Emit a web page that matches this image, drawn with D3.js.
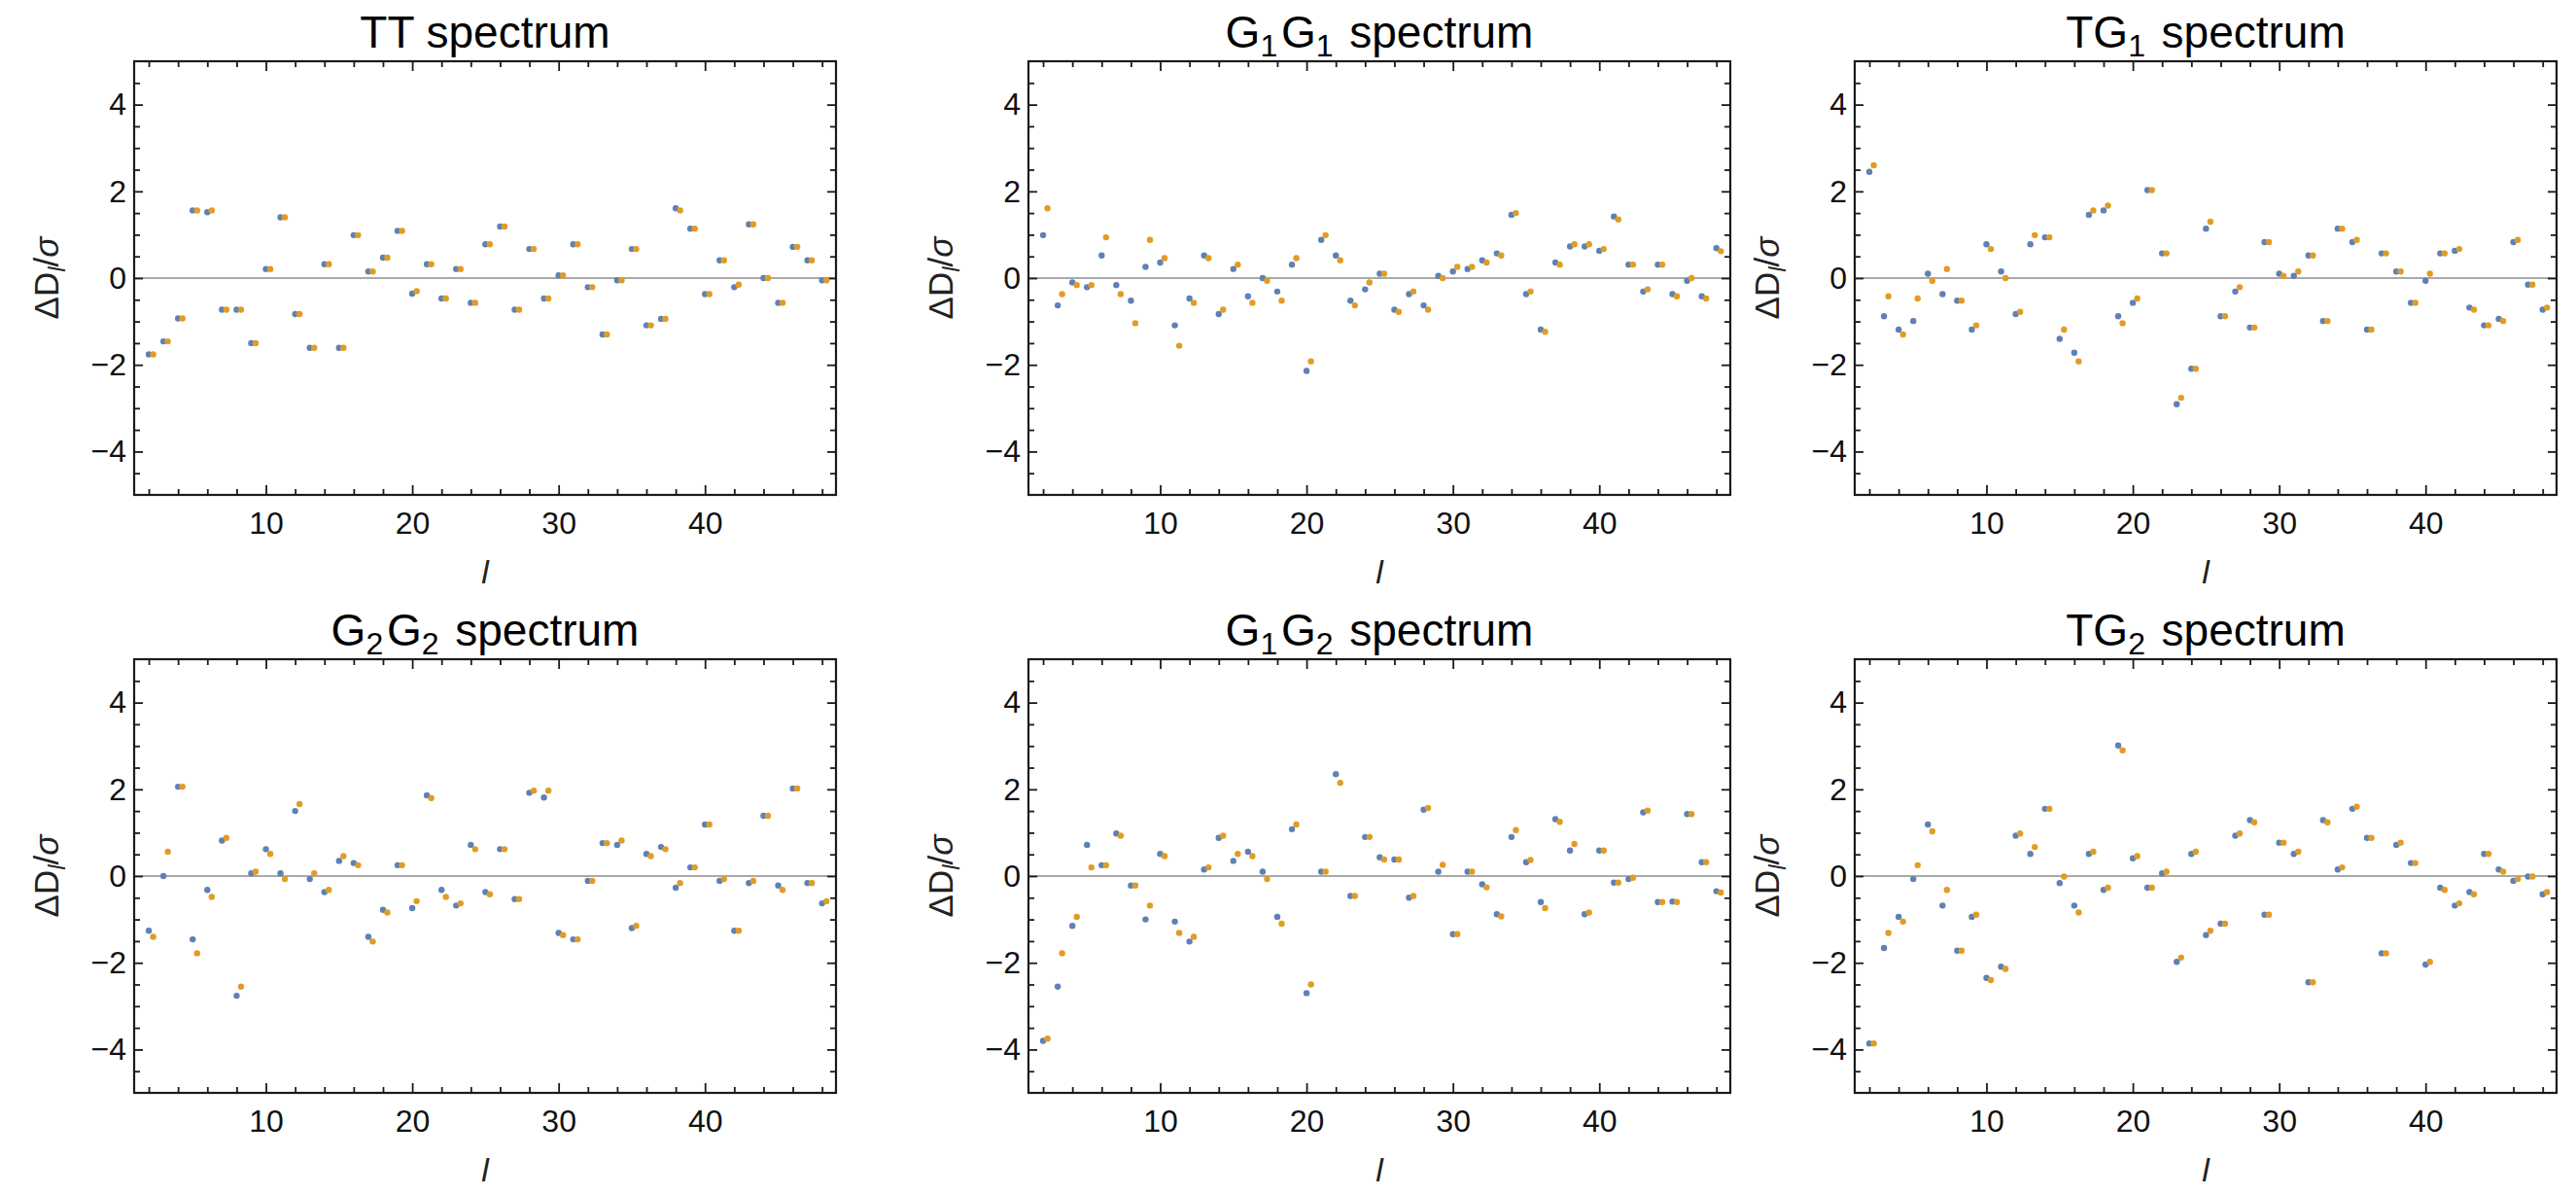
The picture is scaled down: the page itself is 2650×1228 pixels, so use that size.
<!DOCTYPE html>
<html>
<head>
<meta charset="utf-8">
<script src="https://cdn.jsdelivr.net/npm/d3@7"></script>
<style>
  body { margin: 0; background: #fff; }
  svg { display: block; font-family: "Liberation Sans", Arial, Helvetica, sans-serif; }
</style>
</head>
<body>
<div id="main"></div>
<script>
// multipole index, blue = first estimate, orange = second (drawn shifted right a bit)
var ell = [2,3,4,5,6,7,8,9,10,11,12,13,14,15,16,17,18,19,20,21,22,23,24,25,26,27,28,29,30,31,32,33,34,35,36,37,38,39,40,41,42,43,44,45,46,47,48];

var titles = ["TT spectrum", "G_1G_1 spectrum", "TG_1 spectrum", "G_2G_2 spectrum", "G_1G_2 spectrum", "TG_2 spectrum"];

var ttBlue   = [-1.76,-1.46,-0.93,1.56,1.52,-0.73,-0.73,-1.50,0.21,1.40,-0.83,-1.61,0.32,-1.61,0.99,0.15,0.47,1.09,-0.36,0.32,-0.47,0.21,-0.57,0.78,1.19,-0.73,0.67,-0.47,0.06,0.78,-0.21,-1.30,-0.05,0.67,-1.09,-0.94,1.61,1.14,-0.37,0.41,-0.21,1.24,0.00,-0.57,0.72,0.41,-0.05];
var ttOrange = [-1.76,-1.46,-0.93,1.56,1.56,-0.73,-0.73,-1.50,0.21,1.40,-0.83,-1.61,0.32,-1.61,0.99,0.15,0.47,1.09,-0.30,0.32,-0.47,0.21,-0.57,0.78,1.19,-0.73,0.67,-0.47,0.06,0.78,-0.21,-1.30,-0.05,0.67,-1.09,-0.94,1.56,1.14,-0.37,0.41,-0.15,1.24,0.00,-0.57,0.72,0.41,-0.05];

var g1g1Blue   = [0.99,-0.63,-0.10,-0.21,0.52,-0.16,-0.52,0.26,0.36,-1.09,-0.47,0.52,-0.83,0.21,-0.42,0.00,-0.31,0.31,-2.14,0.88,0.52,-0.52,-0.26,0.10,-0.73,-0.37,-0.63,0.05,0.15,0.21,0.41,0.57,1.46,-0.37,-1.19,0.36,0.73,0.73,0.63,1.42,0.31,-0.31,0.31,-0.37,-0.06,-0.42,0.69];
var g1g1Orange = [1.61,-0.37,-0.16,-0.16,0.94,-0.37,-1.04,0.88,0.46,-1.56,-0.57,0.46,-0.73,0.31,-0.57,-0.06,-0.52,0.46,-1.92,0.99,0.41,-0.63,-0.10,0.10,-0.78,-0.31,-0.73,0.00,0.26,0.26,0.36,0.52,1.50,-0.31,-1.24,0.31,0.78,0.78,0.67,1.35,0.31,-0.26,0.31,-0.42,0.00,-0.47,0.62];

var tg1Blue   = [2.45,-0.88,-1.19,-0.99,0.10,-0.37,-0.52,-1.19,0.78,0.15,-0.83,0.78,0.94,-1.40,-1.72,1.46,1.56,-0.88,-0.57,2.03,0.57,-2.91,-2.09,1.14,-0.88,-0.31,-1.14,0.83,0.10,0.05,0.52,-0.99,1.14,0.83,-1.19,0.57,0.15,-0.57,-0.06,0.57,0.63,-0.68,-1.09,-0.94,0.83,-0.15,-0.73];
var tg1Orange = [2.60,-0.42,-1.30,-0.47,-0.06,0.21,-0.52,-1.09,0.67,0.00,-0.78,0.99,0.94,-1.19,-1.92,1.56,1.67,-1.04,-0.47,2.03,0.57,-2.76,-2.09,1.30,-0.88,-0.21,-1.14,0.83,0.05,0.15,0.52,-0.99,1.14,0.88,-1.19,0.57,0.15,-0.57,0.10,0.57,0.67,-0.73,-1.09,-0.99,0.88,-0.15,-0.68];

var g2g2Blue   = [-1.26,0.00,2.06,-1.46,-0.32,0.82,-2.76,0.06,0.62,0.06,1.50,-0.07,-0.37,0.35,0.30,-1.40,-0.78,0.25,-0.74,1.86,-0.32,-0.68,0.72,-0.37,0.62,-0.53,1.92,1.81,-1.31,-1.46,-0.11,0.76,0.72,-1.20,0.51,0.67,-0.27,0.20,1.19,-0.11,-1.26,-0.16,1.39,-0.22,2.02,-0.16,-0.63];
var g2g2Orange = [-1.40,0.56,2.06,-1.78,-0.48,0.88,-2.55,0.10,0.51,-0.07,1.66,0.06,-0.32,0.46,0.25,-1.51,-0.84,0.25,-0.58,1.80,-0.48,-0.63,0.62,-0.42,0.62,-0.53,1.97,1.97,-1.36,-1.46,-0.11,0.76,0.82,-1.15,0.46,0.62,-0.16,0.20,1.19,-0.07,-1.26,-0.11,1.39,-0.32,2.02,-0.16,-0.58];

var g1g2Blue   = [-3.80,-2.55,-1.15,0.72,0.25,0.98,-0.22,-1.00,0.51,-1.05,-1.51,0.15,0.88,0.35,0.56,0.10,-0.94,1.08,-2.70,0.10,2.35,-0.46,0.90,0.43,0.38,-0.50,1.53,0.10,-1.34,0.10,-0.19,-0.88,0.90,0.32,-0.60,1.31,0.59,-0.88,0.59,-0.15,-0.07,1.47,-0.60,-0.59,1.43,0.32,-0.35];
var g1g2Orange = [-3.75,-1.78,-0.94,0.20,0.25,0.93,-0.22,-0.68,0.46,-1.31,-1.40,0.20,0.93,0.51,0.46,-0.07,-1.10,1.19,-2.50,0.10,2.15,-0.46,0.90,0.38,0.38,-0.46,1.57,0.26,-1.34,0.10,-0.26,-0.93,1.06,0.37,-0.74,1.25,0.74,-0.84,0.59,-0.15,-0.04,1.51,-0.60,-0.60,1.43,0.32,-0.38];

var tg2Blue   = [-3.86,-1.66,-0.94,-0.07,1.19,-0.68,-1.72,-0.94,-2.35,-2.09,0.93,0.51,1.55,-0.16,-0.68,0.51,-0.32,3.01,0.41,-0.27,0.06,-1.98,0.51,-1.36,-1.10,0.93,1.29,-0.89,0.77,0.51,-2.45,1.29,0.15,1.55,0.88,-1.78,0.72,0.30,-2.04,-0.27,-0.68,-0.37,0.51,0.15,-0.11,-0.01,-0.42];
var tg2Orange = [-3.86,-1.31,-1.05,0.25,1.03,-0.32,-1.72,-0.89,-2.40,-2.14,0.98,0.67,1.55,-0.01,-0.84,0.56,-0.27,2.90,0.46,-0.27,0.10,-1.88,0.56,-1.26,-1.10,0.98,1.24,-0.89,0.77,0.56,-2.45,1.24,0.20,1.60,0.88,-1.78,0.77,0.30,-1.98,-0.32,-0.63,-0.42,0.51,0.10,-0.07,-0.01,-0.37];

var blueSeries = [ttBlue, g1g1Blue, tg1Blue, g2g2Blue, g1g2Blue, tg2Blue];
var orangeSeries = [ttOrange, g1g1Orange, tg1Orange, g2g2Orange, g1g2Orange, tg2Orange];

var xMajor = [10, 20, 30, 40];
var xMinor = [2,4,6,8,12,14,16,18,22,24,26,28,32,34,36,38,42,44,46,48];
var yMajor = [-4, -2, 0, 2, 4];
var yMinor = [-4.5,-3.5,-3,-2.5,-1.5,-1,-0.5,0.5,1,1.5,2.5,3,3.5,4.5];

var BLUE = "#5E81B5", ORANGE = "#E19C24";
var frameColor = "#1a1a1a";

var W = 2650, H = 1228;
var colLeft = [138, 1058, 1908];
var rowTop = [63, 678];
var pw = 722, ph = 446;

var svg = d3.select("#main").append("svg")
    .attr("width", W)
    .attr("height", H);
svg.append("rect").attr("width", W).attr("height", H).attr("fill", "#fff");

for (var i = 0; i < 6; i++) {
    drawPanel(i);
}

function drawPanel(i) {
    var left = colLeft[i % 3], top = rowTop[Math.floor(i / 3)];
    var g = svg.append("g").attr("transform", "translate(" + left + "," + top + ")");

    var x = d3.scaleLinear().domain([1.0, 48.95]).range([0, pw]);
    var y = d3.scaleLinear().domain([-5, 5]).range([ph, 0]);

    // zero axis line
    g.append("line")
        .attr("x1", 0).attr("x2", pw)
        .attr("y1", y(0)).attr("y2", y(0))
        .attr("stroke", "#8c8c8c")
        .attr("stroke-width", 1.6);

    // frame ticks, pointing inward
    addAxis(g, d3.axisBottom(x).tickValues(xMajor).tickSize(-10).tickPadding(17).tickFormat(d3.format("d")), "translate(0," + ph + ")", true);
    addAxis(g, d3.axisBottom(x).tickValues(xMinor).tickSize(-6).tickFormat(""), "translate(0," + ph + ")", false);
    addAxis(g, d3.axisTop(x).tickValues(xMajor).tickSize(-10).tickFormat(""), null, false);
    addAxis(g, d3.axisTop(x).tickValues(xMinor).tickSize(-6).tickFormat(""), null, false);
    addAxis(g, d3.axisLeft(y).tickValues(yMajor).tickSize(-9).tickPadding(8).tickFormat(function (d) { return d < 0 ? "\u2212" + Math.abs(d) : d; }), null, true);
    addAxis(g, d3.axisLeft(y).tickValues(yMinor).tickSize(-6).tickFormat(""), null, false);
    addAxis(g, d3.axisRight(y).tickValues(yMajor).tickSize(-9).tickFormat(""), "translate(" + pw + ",0)", false);
    addAxis(g, d3.axisRight(y).tickValues(yMinor).tickSize(-6).tickFormat(""), "translate(" + pw + ",0)", false);

    g.append("rect")
        .attr("width", pw).attr("height", ph)
        .attr("fill", "none")
        .attr("stroke", frameColor)
        .attr("stroke-width", 2.2);

    // points
    g.append("g").selectAll("circle")
        .data(blueSeries[i])
        .join("circle")
        .attr("cx", function (d, k) { return x(ell[k]); })
        .attr("cy", function (d) { return y(d); })
        .attr("r", 3.2)
        .attr("fill", BLUE);
    g.append("g").selectAll("circle")
        .data(orangeSeries[i])
        .join("circle")
        .attr("cx", function (d, k) { return x(ell[k] + 0.3); })
        .attr("cy", function (d) { return y(d); })
        .attr("r", 3.2)
        .attr("fill", ORANGE);

    // title with subscripts
    var t = g.append("text")
        .attr("x", pw / 2).attr("y", -14)
        .attr("text-anchor", "middle")
        .attr("font-size", 46)
        .attr("fill", "#000");
    var parts = titles[i].split(/_(\d)/);
    parts.forEach(function (p, k) {
        if (p === "") return;
        if (k % 2 === 1) {
            t.append("tspan").attr("font-size", 32).attr("dy", 9).text(p);
            t.append("tspan").attr("dy", -9).text("\u200a");
        } else {
            t.append("tspan").text(p);
        }
    });

    // y label
    var yl = g.append("text")
        .attr("transform", "translate(" + (-78) + "," + (ph / 2) + ") rotate(-90)")
        .attr("text-anchor", "middle")
        .attr("font-size", 35)
        .attr("fill", "#222");
    yl.append("tspan").text("\u0394D");
    yl.append("tspan").attr("font-size", 24).attr("font-style", "italic").attr("dy", 7).text("l");
    yl.append("tspan").attr("dy", -7).text("/");
    yl.append("tspan").attr("font-style", "italic").text("\u03c3");

    // x label
    g.append("text")
        .attr("x", pw / 2).attr("y", ph + 91)
        .attr("text-anchor", "middle")
        .attr("font-size", 34)
        .attr("font-style", "italic")
        .attr("fill", "#222")
        .text("l");
}

function addAxis(g, axis, transform, labels) {
    var a = g.append("g").call(axis.tickSizeOuter(0));
    if (transform) a.attr("transform", transform);
    a.select(".domain").remove();
    a.selectAll(".tick line").attr("stroke", frameColor).attr("stroke-width", 1.8);
    if (labels) {
        a.selectAll(".tick text")
            .attr("font-size", 32)
            .attr("font-family", "Liberation Sans, Arial, sans-serif")
            .attr("fill", "#111");
    }
}
</script>
</body>
</html>
